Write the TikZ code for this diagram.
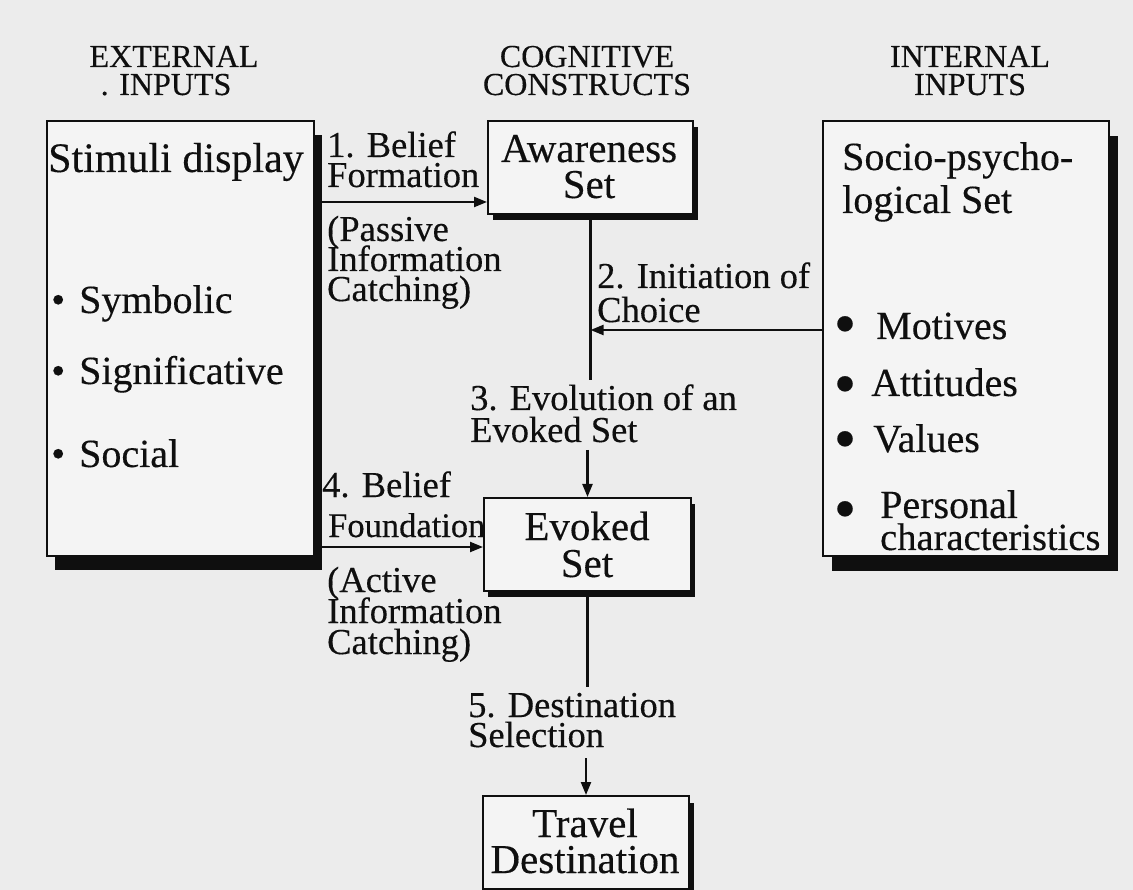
\documentclass[tikz,border=0pt]{standalone}
\usepackage{fontspec}
\setmainfont{Liberation Serif}[FakeBold=0.3]
\usepackage{graphicx}
\usetikzlibrary{arrows.meta,shadows}
\definecolor{bg}{RGB}{236,236,236}
\definecolor{boxfill}{RGB}{244,244,244}
\definecolor{ink}{RGB}{15,15,15}
% stacked lines with an exact baseline distance; the box baseline is the first line's
\newcommand\linesL[2]{\vtop{\baselineskip=#1\lineskiplimit=-100pt\lineskip=0pt\halign{##\hfil\cr#2\crcr}}}
\newcommand\linesC[2]{\vtop{\baselineskip=#1\lineskiplimit=-100pt\lineskip=0pt\halign{\hfil##\hfil\cr#2\crcr}}}
\begin{document}
\begin{tikzpicture}[x=1pt,y=-1pt,
  box/.style={draw=ink, line width=2pt, fill=boxfill, inner sep=0pt, anchor=north west},
  hdr/.style={font=\fontsize{32}{32}\selectfont, anchor=base, inner sep=0pt, text=ink},
  big/.style={font=\fontsize{40}{40}\selectfont, anchor=base west, inner sep=0pt, text=ink},
  bigc/.style={font=\fontsize{41}{41}\selectfont, anchor=base, inner sep=0pt, text=ink},
  bul/.style={font=\fontsize{40}{40}\selectfont, anchor=base, inner sep=0pt, text=ink},
  lbl/.style={font=\fontsize{36.5}{36.5}\selectfont, anchor=base west, inner sep=0pt, text=ink},
  conn/.style={draw=ink, line width=2.2pt},
  arr/.style={conn, -{Triangle[length=13pt,width=10pt]}}
]
\clip (0,0) rectangle (1133,890);
\fill[bg] (0,0) rectangle (1133,890);

% headers
\node[hdr] (h1) at (174,67) {\linesC{28pt}{EXTERNAL\cr . INPUTS\hspace{16pt}}};
\node[hdr] (h2) at (587,67) {\linesC{28pt}{COGNITIVE\cr CONSTRUCTS}};
\node[hdr] (h3) at (970,67) {\linesC{28pt}{INTERNAL\cr INPUTS}};

% boxes
\node[box, minimum width=267pt, minimum height=435pt,
  drop shadow={fill=ink, opacity=1, shadow xshift=8pt, shadow yshift=-14pt}] (stim) at (46,120) {};
\node[box, minimum width=205pt, minimum height=93pt,
  drop shadow={fill=ink, opacity=1, shadow xshift=5pt, shadow yshift=-6pt}] (aw) at (487,120) {};
\node[box, minimum width=207pt, minimum height=93pt,
  drop shadow={fill=ink, opacity=1, shadow xshift=4pt, shadow yshift=-6pt}] (ev) at (483,497) {};
\node[box, minimum width=206pt, minimum height=93pt,
  drop shadow={fill=ink, opacity=1, shadow xshift=5pt, shadow yshift=-7pt}] (tr) at (482,795) {};
\node[box, minimum width=286pt, minimum height=435pt,
  drop shadow={fill=ink, opacity=1, shadow xshift=9pt, shadow yshift=-15pt}] (soc) at (822,120) {};

% stimuli box text
\node[big, font=\fontsize{42}{42}\selectfont] (st0) at (48,172) {Stimuli display};
\node[big] (st1) at (51,313) {\textbullet\hspace{14pt}Symbolic};
\node[big] (st2) at (51,384) {\textbullet\hspace{14pt}Significative};
\node[big] (st3) at (51,467) {\textbullet\hspace{14pt}Social};

% cognitive boxes text
\node[bigc] (awt) at (589,162) {\linesC{36pt}{Awareness\cr Set}};
\node[bigc] (evt) at (587,540) {\linesC{37pt}{Evoked\cr Set}};
\node[bigc] (trt) at (585,837) {\linesC{36pt}{Travel\cr Destination}};

% socio box text
\node[big] (so1) at (842,170) {\linesL{43pt}{Socio-psycho-\cr logical Set}};
\node[bul] (sb1) at (845,345) {\scalebox{1.6}{\textbullet}};
\node[big] (so3) at (876,339) {Motives};
\node[bul] (sb2) at (845,405) {\scalebox{1.6}{\textbullet}};
\node[big] (so4) at (871,396) {Attitudes};
\node[bul] (sb3) at (845,460) {\scalebox{1.6}{\textbullet}};
\node[big] (so5) at (873,452) {Values};
\node[bul] (sb4) at (845,530) {\scalebox{1.6}{\textbullet}};
\node[big] (so6) at (880,518) {\linesL{32pt}{Personal\cr {\fontsize{38.5}{38.5}\selectfont characteristics}}};

% labels
\node[lbl] (l1) at (327,157) {\linesL{30pt}{1. Belief\cr Formation}};
\node[lbl] (l1p) at (327,241) {\linesL{30pt}{(Passive\cr Information\cr Catching)}};
\node[lbl] (l2) at (597,288) {\linesL{34pt}{2. Initiation of\cr Choice}};
\node[lbl] (l3) at (470,410) {\linesL{32pt}{3. Evolution of an\cr Evoked Set}};
\node[lbl] (l4) at (322,497) {\linesL{40pt}{4. Belief\cr \hspace{6pt}{\fontsize{34.5}{34.5}\selectfont Foundation}}};
\node[lbl] (l4p) at (327,592) {\linesL{31pt}{(Active\cr Information\cr Catching)}};
\node[lbl] (l5) at (468,717) {\linesL{30pt}{5. Destination\cr Selection}};

% connectors
\coordinate (s1) at (322,202);
\draw[arr] (s1) -- (s1 -| aw.west);
\coordinate (g1) at (588,380);
\draw[conn] (aw.south) -- (aw.south |- g1);
\coordinate (c2) at (822,330);
\draw[arr] (c2 -| soc.west) -- (c2 -| aw.south);
\coordinate (g2) at (588,450);
\draw[arr] (ev.north |- g2) -- (ev.north);
\coordinate (s4) at (320,547);
\draw[arr] (s4) -- (s4 -| ev.west);
\coordinate (g3) at (588,687);
\draw[conn] (ev.south) -- (ev.south |- g3);
\coordinate (g4) at (588,758);
\draw[arr] (tr.north |- g4) -- (tr.north);
\end{tikzpicture}
\end{document}
